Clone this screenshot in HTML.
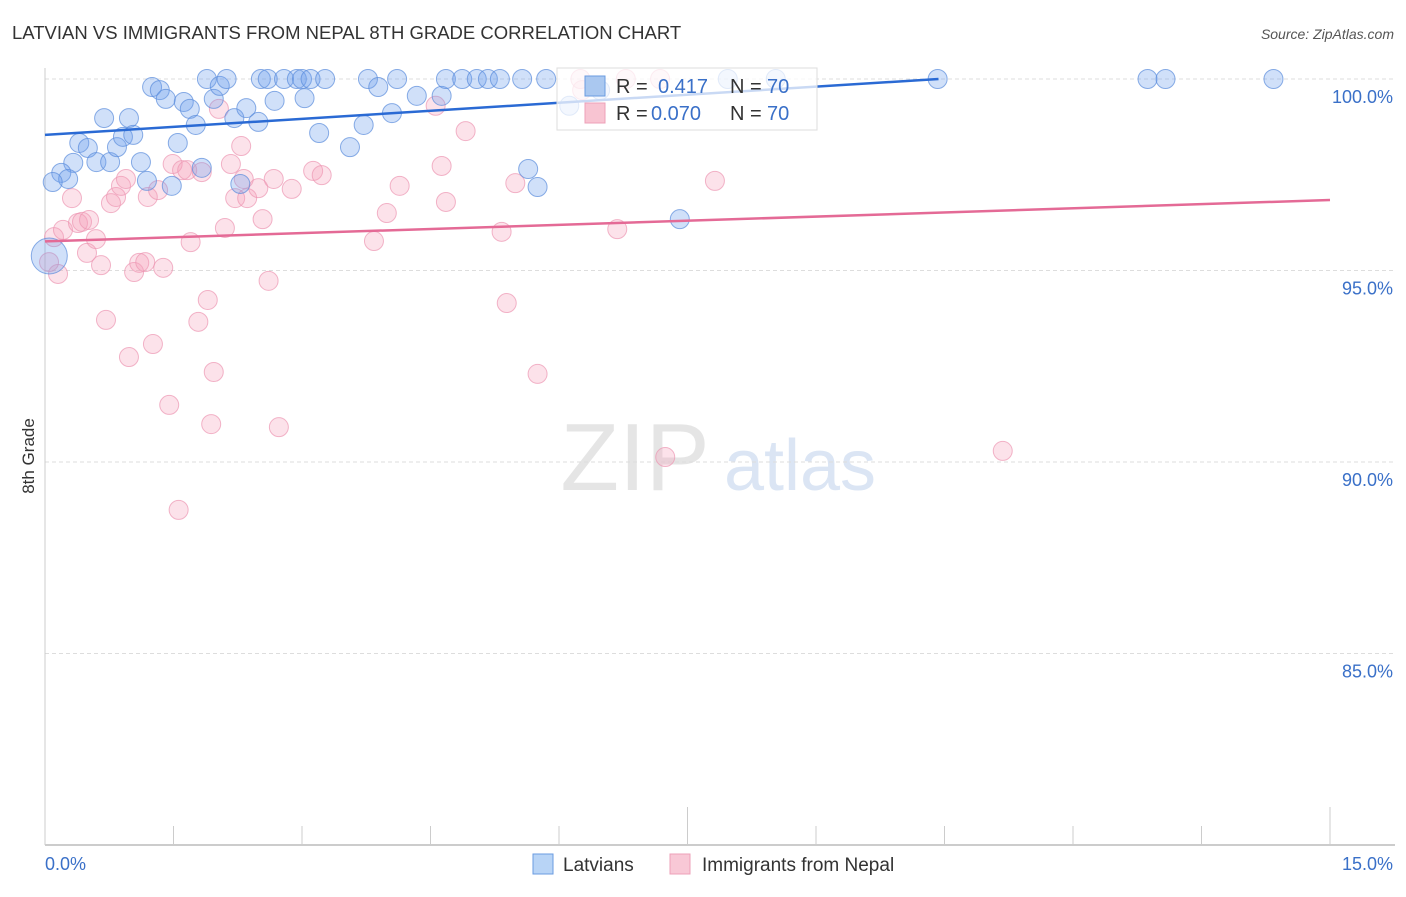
<!DOCTYPE html>
<html><head><meta charset="utf-8"><style>
body{margin:0;background:#fff;font-family:"Liberation Sans",sans-serif}
svg text{font-family:"Liberation Sans",sans-serif}
</style></head><body>
<svg id="chart" width="1406" height="892" viewBox="0 0 1406 892">
<text x="12" y="39" font-size="18.5" fill="#333">LATVIAN VS IMMIGRANTS FROM NEPAL 8TH GRADE CORRELATION CHART</text>
<text x="1394" y="39" font-size="14" fill="#555" text-anchor="end" font-style="italic">Source: ZipAtlas.com</text>
<text x="34" y="456" font-size="17" fill="#333" text-anchor="middle" transform="rotate(-90 34 456)">8th Grade</text>
<g opacity="0.5">
<text x="635" y="490" font-size="96" fill="#ccc" font-family="Liberation Serif" text-anchor="middle">ZIP</text>
<text x="800" y="490" font-size="72" fill="#b8cdea" text-anchor="middle">atlas</text>
</g>
<g id="grid"></g><g id="axes"></g><g id="pts"></g><g id="lines"></g>
<g>
<rect x="557" y="68" width="260" height="62" fill="#fff" fill-opacity="0.75" stroke="#ddd"/>
<rect x="585" y="76" width="20" height="20" fill="#aac8f0" stroke="#6a9be0"/>
<rect x="585" y="103" width="20" height="20" fill="#f8c4d2" stroke="#eea0b8"/>
<text x="616" y="93" font-size="20" fill="#333">R = </text><text x="658" y="93" font-size="20" fill="#3a70c8">0.417</text><text x="730" y="93" font-size="20" fill="#333">N = </text><text x="767" y="93" font-size="20" fill="#3a70c8">70</text>
<text x="616" y="120" font-size="20" fill="#333">R = </text><text x="651" y="120" font-size="20" fill="#3a70c8">0.070</text><text x="730" y="120" font-size="20" fill="#333">N = </text><text x="767" y="120" font-size="20" fill="#3a70c8">70</text>
</g>
<g>
<rect x="533" y="854" width="20" height="20" fill="#b8d4f6" stroke="#6a9be0"/>
<text x="563" y="871" font-size="19" fill="#333">Latvians</text>
<rect x="670" y="854" width="20" height="20" fill="#f8c8d6" stroke="#eea0b8"/>
<text x="702" y="871" font-size="19" fill="#333">Immigrants from Nepal</text>
</g>
</svg>
<script>
const yTicks=[100,95,90,85];
const xTickLabels=["0.0%","15.0%"];
const latviansX=[1.25,1.34,1.41,1.62,1.69,1.89,1.97,2.04,2.12,2.21,2.35,2.49,2.52,2.60,2.68,2.79,2.94,3.00,3.03,3.10,3.27,3.20,3.56,3.72,3.77,3.89,4.05,4.11,4.34,4.63,4.68,4.87,5.04,5.17,5.31,5.57,5.85,5.64,5.75,7.41,7.97,8.53,10.42,12.87,13.08,14.34,0.69,0.98,0.40,0.50,0.60,0.76,0.84,0.91,1.03,1.12,1.19,1.48,1.55,1.76,1.83,2.28,0.33,0.19,0.27,0.09,0.05,6.12,6.48];
const latviansY=[99.79,99.71,99.48,99.40,99.22,100,99.48,99.82,100,98.98,99.24,98.88,100,100,99.43,100,100,100,99.50,100,100,98.59,98.22,98.80,100,99.79,99.11,100,99.56,99.56,100,100,100,100,100,100,100,97.65,97.18,96.34,100,100,100,100,100,100,98.98,98.98,98.33,98.20,97.83,97.83,98.22,98.49,98.54,97.83,97.34,97.21,98.33,98.80,97.68,97.26,97.81,97.55,97.39,97.31,95.38,99.30,99.71];
const nepalX=[0.105,0.152,0.047,0.21,0.315,0.385,0.432,0.514,0.49,0.595,0.654,0.712,0.77,0.829,0.887,0.945,0.98,1.04,1.10,1.17,1.20,1.26,1.32,1.38,1.45,1.49,1.56,1.60,1.66,1.70,1.79,1.83,1.90,1.94,1.97,2.03,2.10,2.17,2.22,2.29,2.32,2.36,2.49,2.54,2.61,2.67,2.73,2.88,3.13,3.23,3.84,3.99,4.14,4.56,4.63,4.68,4.91,5.33,5.39,5.49,5.75,6.68,7.24,7.82,11.18,6.27,6.78,7.18,6.25];
const nepalY=[95.87,94.91,95.22,96.06,96.89,96.24,96.27,96.32,95.46,95.82,95.14,93.71,96.76,96.92,97.21,97.39,92.74,94.96,95.20,95.22,96.92,93.08,97.10,95.07,91.49,97.78,88.75,97.62,97.62,95.74,93.66,97.57,94.23,90.99,92.35,99.22,96.11,97.78,96.89,98.25,97.39,96.89,97.15,96.34,94.73,97.39,90.91,97.13,97.60,97.49,95.77,96.50,97.21,99.30,97.73,96.79,98.64,96.01,94.15,97.28,92.30,96.08,90.13,97.34,90.29,99.71,100,100,100];
const latviansTrend=[98.54,100.0,10.43];
const nepalTrend=[95.76,96.84,15.0];
function X(v){return 45+v/15*1285;}
function Y(v){return 79+(100-v)*38.3;}
const NS='http://www.w3.org/2000/svg';
function mk(tag,attrs,parent){const e=document.createElementNS(NS,tag);for(const k in attrs)e.setAttribute(k,attrs[k]);document.getElementById(parent).appendChild(e);return e;}
yTicks.forEach(v=>{
  const g=mk('line',{x1:45,x2:1395,y1:Y(v),y2:Y(v),stroke:'#ddd','stroke-dasharray':'4,3'},'grid');
  
  
  const t=mk('text',{x:1393,y:Y(v)+24,'font-size':18,fill:'#3a70c8','text-anchor':'end'},'grid');
  t.textContent=v.toFixed(1)+'%';
  
  
});
const ax=mk('line',{x1:45,x2:1395,y1:845,y2:845,stroke:'#bbb','stroke-width':1.5},'axes');


const ay=mk('line',{x1:45,x2:45,y1:68,y2:845,stroke:'#ccc'},'axes');


for(let i=0;i<=10;i++){
  const v=i*1.5;const tall=(i==5||i==10);
  const t=mk('line',{x1:X(v),x2:X(v),y1:tall?807:826,y2:845,stroke:'#ccc'},'axes');
  
  
}
[[0,'start'],[15,'end']].forEach((p,i)=>{
  const t=mk('text',{x:i?1393:45,y:870,'font-size':18,fill:'#3a70c8','text-anchor':p[1]},'axes');
  t.textContent=xTickLabels[i];
  
  
});
nepalX.forEach((x,i)=>{
  const c=mk('circle',{cx:X(x),cy:Y(nepalY[i]),r:9.5,fill:'rgba(244,160,185,0.3)',stroke:'rgba(236,150,178,0.7)'},'pts');
  
  
});
latviansX.forEach((x,i)=>{
  const big=i==latviansX.length-3;
  const c=mk('circle',{cx:X(x),cy:Y(latviansY[i]),r:big?18:9.5,fill:'rgba(110,160,235,0.32)',stroke:'rgba(90,140,220,0.7)'},'pts');
  
  
});
const l1=mk('line',{x1:X(0),y1:Y(latviansTrend[0]),x2:X(latviansTrend[2]),y2:Y(latviansTrend[1]),stroke:'#2a6ad4','stroke-width':2.5},'lines');


const l2=mk('line',{x1:X(0),y1:Y(nepalTrend[0]),x2:X(nepalTrend[2]),y2:Y(nepalTrend[1]),stroke:'#e46a96','stroke-width':2.5},'lines');


</script>
</body></html>
